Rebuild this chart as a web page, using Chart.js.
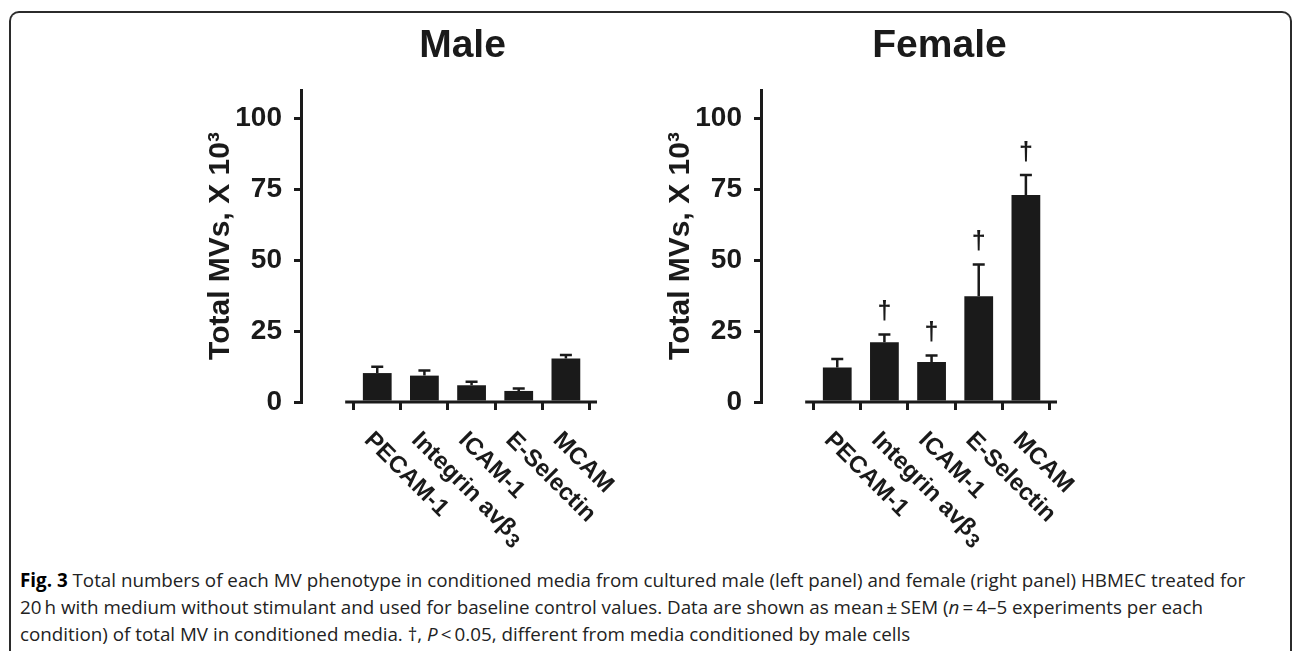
<!DOCTYPE html>
<html>
<head>
<meta charset="utf-8">
<script src="https://cdn.jsdelivr.net/npm/chart.js@4.4.1/dist/chart.umd.min.js"></script>
<style>
  html, body { margin: 0; padding: 0; background: #fff; }
  body { width: 1292px; height: 651px; position: relative; overflow: hidden; }
  .frame {
    position: absolute; left: 9px; top: 11px; width: 1279px; height: 700px;
    border: 2px solid #2b2b2b; border-bottom: none;
    border-radius: 10px 10px 0 0;
  }
  canvas { position: absolute; top: 0; }
  #maleChart { left: 190px; }
  #femaleChart { left: 650px; }
  .caption {
    position: absolute; left: 20px; top: 567px;
    font-family: "Open Sans", "Noto Sans", sans-serif;
    font-size: 18.8px; line-height: 27px; color: #222; white-space: nowrap;
  }
  .caption b { color: #000; }
</style>
</head>
<body>
<div class="frame"></div>
<canvas id="maleChart" width="456" height="560"></canvas>
<canvas id="femaleChart" width="456" height="560"></canvas>
<div class="caption">
<b>Fig. 3</b> Total numbers of each MV phenotype in conditioned media from cultured male (left panel) and female (right panel) HBMEC treated for<br>
20&#8201;h with medium without stimulant and used for baseline control values. Data are shown as mean&#8201;±&#8201;SEM (<i>n</i>&#8201;=&#8201;4–5 experiments per each<br>
condition) of total MV in conditioned media. †, <i>P</i>&#8201;&lt;&#8201;0.05, different from media conditioned by male cells
</div>

<script>
// data (values are x 10^3)
const categories = ["PECAM-1", "Integrin avβ_3", "ICAM-1", "E-Selectin", "MCAM"];
const maleMean = [10.2, 9.3, 5.9, 3.9, 15.3];
const maleSem = [2.2, 1.8, 1.2, 0.9, 1.3];
const femaleMean = [12.2, 21.1, 14.1, 37.3, 73.0];
const femaleSem = [3.0, 2.7, 2.3, 11.2, 7.0];
const femaleSig = [false, true, true, true, true];
const yTicks = [0, 25, 50, 75, 100];

const INK = "#1a1a1a";
const FONT = "'Liberation Sans', Arial, sans-serif";
Chart.defaults.font.family = FONT;
Chart.defaults.color = INK;

// panel heading, drawn over the chart area
const headingPlugin = {
  id: "heading",
  afterDraw(chart, args, opts) {
    const ctx = chart.ctx;
    const area = chart.chartArea;
    ctx.save();
    ctx.fillStyle = INK;
    ctx.font = "bold 39px " + FONT;
    ctx.textAlign = "center";
    ctx.textBaseline = "alphabetic";
    ctx.fillText(opts.text, (area.left + area.right) / 2 + opts.shift, 57);
    ctx.restore();
  },
};

// error bars (upper whisker only) + significance daggers
const errorBarPlugin = {
  id: "errorBars",
  afterDatasetsDraw(chart, args, opts) {
    const ctx = chart.ctx;
    const ys = chart.scales.y;
    const meta = chart.getDatasetMeta(0);
    ctx.save();
    ctx.strokeStyle = INK;
    ctx.fillStyle = INK;
    ctx.lineWidth = 2.5;
    meta.data.forEach((bar, i) => {
      const top = ys.getPixelForValue(opts.mean[i] + opts.sem[i]);
      ctx.beginPath();
      ctx.moveTo(bar.x, bar.y);
      ctx.lineTo(bar.x, top);
      ctx.moveTo(bar.x - 6, top);
      ctx.lineTo(bar.x + 6, top);
      ctx.stroke();
      if (opts.sig && opts.sig[i]) {
        ctx.font = "bold 25px " + FONT;
        ctx.textAlign = "center";
        ctx.textBaseline = "alphabetic";
        ctx.fillText("†", bar.x, top - 15);
      }
    });
    ctx.restore();
  },
};

// detached x axis line and clockwise-rotated category labels ("_" marks a subscript)
const xAxisPlugin = {
  id: "xAxisDecor",
  afterDraw(chart, args, opts) {
    const ctx = chart.ctx;
    const xs = chart.scales.x;
    const y0 = chart.scales.y.getPixelForValue(0);
    ctx.save();
    ctx.strokeStyle = INK;
    ctx.lineWidth = 3;
    ctx.beginPath();
    ctx.moveTo(xs.getPixelForValue(opts.lineFrom), y0);
    ctx.lineTo(xs.getPixelForValue(opts.lineTo), y0);
    ctx.stroke();
    ctx.fillStyle = INK;
    ctx.textAlign = "left";
    ctx.textBaseline = "alphabetic";
    categories.forEach((label, i) => {
      const [main, sub] = label.split("_");
      ctx.save();
      ctx.translate(xs.getPixelForValue(i) - 14, y0 + 39);
      ctx.rotate(Math.PI / 4);
      ctx.font = "bold 24px " + FONT;
      ctx.fillText(main, 0, 0);
      if (sub) {
        const w = ctx.measureText(main).width;
        ctx.font = "bold 20px " + FONT;
        ctx.fillText(sub, w + 1, 5);
      }
      ctx.restore();
    });
    ctx.restore();
  },
};

function makeChart(id, title, titleShift, mean, sem, sig) {
  return new Chart(document.getElementById(id), {
    type: "bar",
    data: {
      datasets: [
        {
          data: mean.map((v, i) => ({ x: i, y: v })),
          backgroundColor: INK,
          borderWidth: 0,
          categoryPercentage: 1,
          barPercentage: 0.61,
        },
      ],
    },
    options: {
      responsive: false,
      animation: false,
      layout: { padding: { left: 0, right: 14, top: 90, bottom: 0 } },
      plugins: {
        legend: { display: false },
        tooltip: { enabled: false },
        title: { display: false },
        heading: { text: title, shift: titleShift },
        errorBars: { mean: mean, sem: sem, sig: sig },
        xAxisDecor: { lineFrom: -0.68, lineTo: 4.66 },
      },
      scales: {
        x: {
          type: "linear",
          min: -0.915,
          max: 4.7,
          afterFit: (s) => { s.height = 158; },
          afterBuildTicks: (s) => { s.ticks = categories.map((c, i) => ({ value: i })); },
          border: { display: false },
          grid: { drawOnChartArea: false, drawTicks: true, tickLength: 8, lineWidth: 3, color: INK },
          ticks: { display: false },
        },
        y: {
          min: 0,
          max: 110,
          afterFit: (s) => { s.width = 111; },
          afterBuildTicks: (s) => { s.ticks = yTicks.map((v) => ({ value: v })); },
          border: { display: true, width: 3, color: INK },
          grid: { drawOnChartArea: false, tickLength: 7, lineWidth: 3, color: INK },
          ticks: { font: { size: 28, weight: "bold" }, padding: 12, color: INK },
          title: {
            display: true,
            text: "Total MVs, X 10³",
            color: INK,
            font: { size: 30, weight: "bold" },
            padding: { top: 13, bottom: 0 },
          },
        },
      },
    },
    plugins: [headingPlugin, errorBarPlugin, xAxisPlugin],
  });
}

makeChart("maleChart", "Male", -4, maleMean, maleSem, null);
makeChart("femaleChart", "Female", 13, femaleMean, femaleSem, femaleSig);
</script>
</body>
</html>
